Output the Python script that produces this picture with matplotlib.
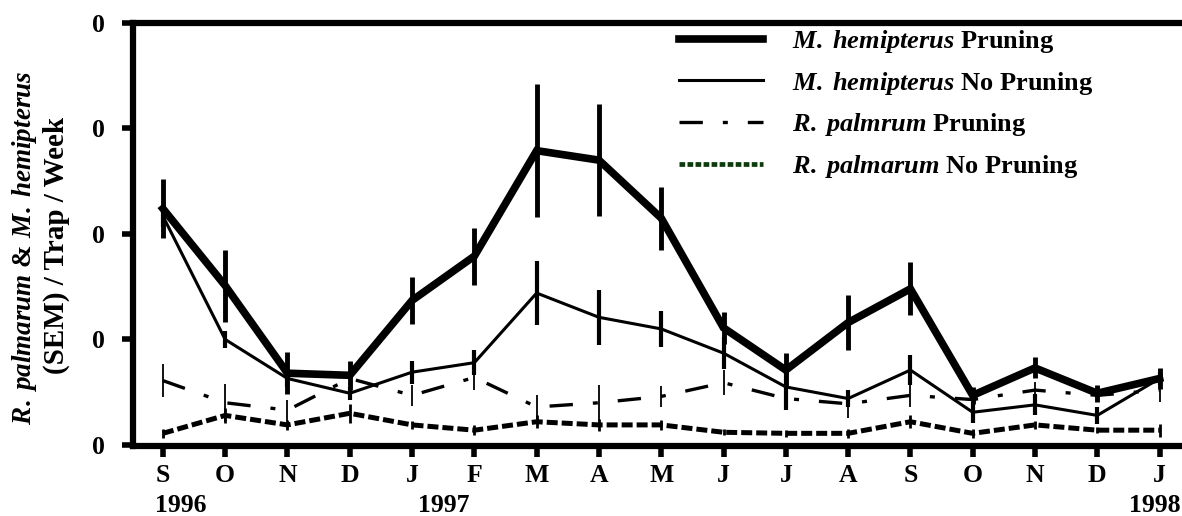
import numpy as np
import matplotlib.pyplot as plt

plt.rcParams['font.family'] = 'Liberation Serif'
plt.rcParams['font.weight'] = 'bold'
plt.rcParams['mathtext.fontset'] = 'custom'
plt.rcParams['mathtext.it'] = 'Liberation Serif:italic:bold'
plt.rcParams['mathtext.rm'] = 'Liberation Serif:bold'

months = ['S', 'O', 'N', 'D', 'J', 'F', 'M', 'A', 'M', 'J', 'J', 'A', 'S', 'O', 'N', 'D', 'J']

# M. hemipterus, pruned plots
mh_prun = [22.4, 15.1, 6.8, 6.6, 13.7, 17.9, 27.9, 27.0, 21.5, 11.1, 7.1, 11.6, 14.8, 4.7, 7.3, 4.9, 6.3]
mh_prun_sem = [2.8, 3.4, 2.0, 1.4, 2.2, 2.7, 6.3, 5.3, 3.0, 1.5, 1.6, 2.6, 2.5, 0.8, 1.0, 0.8, 1.0]
# M. hemipterus, no pruning
mh_none = [21.7, 10.0, 6.3, 4.9, 6.9, 7.8, 14.4, 12.1, 11.0, 8.7, 5.5, 4.4, 7.1, 3.1, 3.8, 2.8, 6.3]
mh_none_sem = [1.0, 0.8, 0.8, 0.6, 1.1, 1.2, 3.0, 2.6, 1.7, 1.5, 2.2, 0.8, 1.4, 1.0, 1.0, 0.8, 0.6]
# R. palmarum, pruned plots
rp_prun = [6.1, 4.0, 3.3, 6.3, 4.7, 6.4, 3.6, 4.0, 4.6, 5.9, 4.4, 3.9, 4.7, 4.3, 5.2, 4.7, 5.2]
rp_prun_sem = [1.6, 1.8, 1.0, 0.8, 1.0, 1.2, 1.1, 1.7, 1.0, 1.2, 0.8, 1.3, 1.1, 0.6, 0.8, 0.6, 1.1]
# R. palmarum, no pruning
rp_none = [1.1, 2.8, 1.9, 3.0, 1.9, 1.4, 2.2, 1.9, 1.9, 1.2, 1.1, 1.1, 2.2, 1.1, 1.9, 1.4, 1.4]
rp_none_sem = [0.4, 0.7, 0.5, 0.9, 0.4, 0.5, 0.6, 0.6, 0.5, 0.3, 0.3, 0.4, 0.6, 0.4, 0.4, 0.3, 0.6]

x = np.arange(len(months))

fig = plt.figure(figsize=(11.82, 5.16), dpi=100)
ax = fig.add_axes([133/1182, (516-446)/516, 1 - 133/1182, (446-23)/516])

l1, = ax.plot(x, mh_prun, color='black', lw=5.5, solid_joinstyle='miter')
ax.errorbar(x, mh_prun, yerr=mh_prun_sem, fmt='none', ecolor='black', elinewidth=3.5, capsize=0)
l2, = ax.plot(x, mh_none, color='black', lw=2.2)
ax.errorbar(x, mh_none, yerr=mh_none_sem, fmt='none', ecolor='black', elinewidth=3.0, capsize=0)
l3, = ax.plot(x, rp_prun, color='black', lw=2.4, dashes=(7, 6, 1.5, 6))
ax.errorbar(x, rp_prun, yerr=rp_prun_sem, fmt='none', ecolor='black', elinewidth=1.3, capsize=0)
l4, = ax.plot(x, rp_none, color='black', lw=3.6, dashes=(2.2, 0.8))
ax.errorbar(x, rp_none, yerr=rp_none_sem, fmt='none', ecolor='black', elinewidth=2.0, capsize=0)

# legend handle for the last series is drawn in dark green
h4, = ax.plot([], [], color='#0b3a0b', lw=3.4, dashes=(1.2, 0.5))

ax.set_xlim(-0.48, 16.36)
ax.set_ylim(-0.1, 40)
ax.set_xticks(x)
ax.set_xticklabels(months, fontsize=18.5, fontweight='bold')
ax.set_yticks([0, 10, 20, 30, 40])
ax.set_yticklabels(['0'] * 5, fontsize=18.5, fontweight='bold')
ax.tick_params(axis='both', length=8, width=4, direction='out', pad=5)
ax.tick_params(axis='y', pad=12)

for side in ['left', 'bottom', 'top']:
    ax.spines[side].set_linewidth(4.5)
ax.spines['right'].set_visible(False)

fig.text(181/1182, 1 - 505/516, '1996', fontsize=18.5, fontweight='bold', ha='center', va='center')
fig.text(444/1182, 1 - 505/516, '1997', fontsize=18.5, fontweight='bold', ha='center', va='center')
fig.text(1181/1182, 1 - 505/516, '1998', fontsize=18.5, fontweight='bold', ha='right', va='center')

fig.text(25/1182, 1 - 248/516, r'$\mathit{R.\;palmarum}$ & $\mathit{M.\;hemipterus}$',
         rotation=90, fontsize=19.5, fontweight='bold', ha='center', va='center')
fig.text(56/1182, 1 - 245/516, '(SEM) / Trap / Week', rotation=90, fontsize=21,
         fontweight='bold', ha='center', va='center')

labels = [r'$\mathit{M.\;hemipterus}$ Pruning',
          r'$\mathit{M.\;hemipterus}$ No Pruning',
          r'$\mathit{R.\;palmrum}$ Pruning',
          r'$\mathit{R.\;palmarum}$ No Pruning']
leg = ax.legend([l1, l2, l3, h4], labels, loc='upper left', bbox_to_anchor=(655/1182, 1 - 4/516),
                bbox_transform=fig.transFigure, frameon=False, fontsize=19,
                handlelength=3.2, handletextpad=1.1, labelspacing=0.56)
for t in leg.get_texts():
    t.set_fontweight('bold')

fig.savefig('out.png', dpi=100)
